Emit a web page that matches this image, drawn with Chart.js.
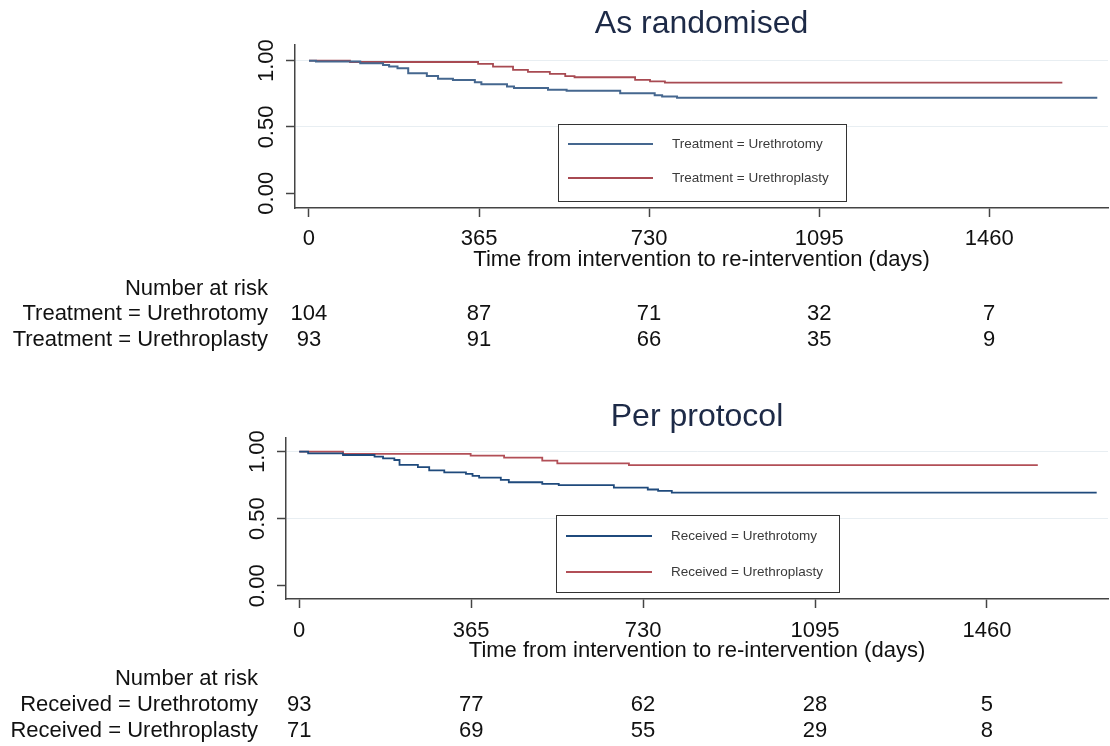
<!DOCTYPE html>
<html><head><meta charset="utf-8">
<script src="https://cdn.jsdelivr.net/npm/chart.js@4.4.1/dist/chart.umd.min.js"></script>
<style>
html,body{margin:0;padding:0;background:#fff;}
.panel{position:absolute;left:0;width:1110px;height:373px;}
</style></head><body>
<div class="panel" style="top:0"><canvas id="c1"></canvas></div>
<div class="panel" style="top:373px"><canvas id="c2"></canvas></div>
<script>
const FONT = '"Liberation Sans", Arial, sans-serif';
const xTicks = [0, 365, 730, 1095, 1460];
const yTicks = [0, 0.5, 1];

// Panel 1: As randomised
const r1UrotomyDays = [0, 15, 110, 159, 172, 190, 213, 253, 277, 309, 356, 370, 425, 440, 513, 553, 668, 742, 758, 790, 1692];
const r1UrotomySurv = [1, 0.993, 0.98, 0.968, 0.955, 0.943, 0.905, 0.885, 0.863, 0.855, 0.838, 0.823, 0.805, 0.793, 0.78, 0.773, 0.755, 0.74, 0.73, 0.72, 0.72];
const r1UroplastyDays = [0, 88, 363, 395, 438, 470, 517, 550, 570, 700, 732, 764, 1617];
const r1UroplastySurv = [1, 0.99, 0.975, 0.955, 0.93, 0.915, 0.9, 0.883, 0.875, 0.855, 0.843, 0.835, 0.835];
const r1UrotomyRisk = [104, 87, 71, 32, 7];
const r1UroplastyRisk = [93, 91, 66, 35, 9];

// Panel 2: Per protocol
const r2UrotomyDays = [0, 19, 93, 160, 178, 202, 213, 252, 276, 308, 354, 368, 382, 428, 445, 516, 551, 668, 740, 762, 791, 1693];
const r2UrotomySurv = [1, 0.988, 0.975, 0.963, 0.95, 0.938, 0.901, 0.884, 0.86, 0.845, 0.834, 0.819, 0.807, 0.79, 0.772, 0.76, 0.75, 0.732, 0.718, 0.708, 0.695, 0.695];
const r2UroplastyDays = [0, 93, 364, 435, 516, 548, 700, 1568];
const r2UroplastySurv = [1, 0.983, 0.97, 0.955, 0.933, 0.913, 0.9, 0.9];
const r2UrotomyRisk = [93, 77, 62, 28, 5];
const r2UroplastyRisk = [71, 69, 55, 29, 8];

function makeChart(id, cfg) {
  const datasets = cfg.series.map(s => ({
    label: s.label,
    data: s.days.map((d, i) => ({x: d, y: s.surv[i]})),
    borderColor: s.color,
    borderWidth: s.width,
    stepped: 'before',
    pointRadius: 0,
    fill: false,
    tension: 0
  }));
  const panelPlugin = {
    id: 'panel' + id,
    afterDraw(chart) {
      const ctx = chart.ctx, xs = chart.scales.x, ca = chart.chartArea;
      ctx.save();
      ctx.fillStyle = '#1d2a47';
      ctx.font = '32px ' + FONT;
      ctx.textAlign = 'center';
      ctx.textBaseline = 'middle';
      ctx.fillText(cfg.title, (ca.left + ca.right) / 2, cfg.titleY);
      const L = cfg.legend;
      ctx.fillStyle = '#fff';
      ctx.fillRect(L.x, L.y, L.w, L.h);
      ctx.strokeStyle = '#333';
      ctx.lineWidth = 1;
      ctx.strokeRect(L.x + 0.5, L.y + 0.5, L.w, L.h);
      chart.data.datasets.forEach((d, i) => {
        const y = L.rowY[i];
        ctx.strokeStyle = d.borderColor;
        ctx.lineWidth = d.borderWidth;
        ctx.beginPath();
        ctx.moveTo(L.lineX0, y);
        ctx.lineTo(L.lineX1, y);
        ctx.stroke();
        ctx.fillStyle = '#3a3a3a';
        ctx.font = '13.5px ' + FONT;
        ctx.textAlign = 'left';
        ctx.fillText(d.label, L.textX, y);
      });
      const T = cfg.table;
      ctx.fillStyle = '#111';
      ctx.font = '22px ' + FONT;
      ctx.textAlign = 'right';
      ctx.fillText('Number at risk', T.labelX, T.headY);
      cfg.series.forEach((s, i) => {
        ctx.textAlign = 'right';
        ctx.fillText(s.label, T.labelX, T.rowY[i]);
        ctx.textAlign = 'center';
        s.risk.forEach((n, j) => ctx.fillText(String(n), xs.getPixelForValue(xTicks[j]), T.rowY[i]));
      });
      ctx.restore();
    }
  };
  return new Chart(document.getElementById(id), {
    type: 'line',
    data: {datasets},
    plugins: [panelPlugin],
    options: {
      responsive: true,
      maintainAspectRatio: false,
      animation: false,
      devicePixelRatio: 1,
      layout: {padding: cfg.padding},
      plugins: {legend: {display: false}, title: {display: false}, tooltip: {enabled: false}},
      scales: {
        x: {
          type: 'linear', min: cfg.xMin, max: cfg.xMax,
          afterBuildTicks: s => { s.ticks = xTicks.map(v => ({value: v})); },
          afterFit: s => { s.height = 65; },
          grid: {drawOnChartArea: false, drawTicks: true, tickLength: 9, tickColor: '#444', tickWidth: 1.5},
          border: {display: true, color: '#444', width: 1.5},
          ticks: {color: '#111', font: {family: FONT, size: 22}, padding: cfg.xTickPad, maxRotation: 0, autoSkip: false,
                  callback: v => String(v)},
          title: {display: true, text: 'Time from intervention to re-intervention (days)', color: '#111',
                  font: {family: FONT, size: 22}, padding: {top: 0, bottom: 0}}
        },
        y: {
          min: cfg.yMin, max: cfg.yMax,
          afterBuildTicks: s => { s.ticks = yTicks.map(v => ({value: v})); },
          afterFit: s => { s.width = 40; },
          grid: {color: c => (c.tick && c.tick.value > 0) ? '#e8eef2' : 'rgba(0,0,0,0)',
                 tickColor: '#444', tickLength: 9, tickWidth: 1.5, drawTicks: true},
          border: {display: true, color: '#444', width: 1.5},
          ticks: {minRotation: 90, maxRotation: 90, crossAlign: 'center', padding: -2, color: '#111',
                  font: {family: FONT, size: 22}, callback: v => Number(v).toFixed(2)}
        }
      }
    }
  });
}

makeChart('c1', {
  title: 'As randomised', titleY: 24, xTickPad: 9,
  xMin: -30, xMax: 1715, yMin: -0.111, yMax: 1.118,
  padding: {left: 255, right: 2, top: 45, bottom: 100},
  series: [
    {label: 'Treatment = Urethrotomy', days: r1UrotomyDays, surv: r1UrotomySurv, risk: r1UrotomyRisk, color: '#45678f', width: 2},
    {label: 'Treatment = Urethroplasty', days: r1UroplastyDays, surv: r1UroplastySurv, risk: r1UroplastyRisk, color: '#a84a52', width: 1.8}
  ],
  legend: {x: 558, y: 124, w: 288, h: 77, rowY: [144, 178], lineX0: 568, lineX1: 653, textX: 672},
  table: {labelX: 268, headY: 289, rowY: [314, 340]}
});

makeChart('c2', {
  title: 'Per protocol', titleY: 44, xTickPad: 10,
  xMin: -28, xMax: 1717, yMin: -0.099, yMax: 1.102,
  padding: {left: 246, right: 2, top: 65, bottom: 82},
  series: [
    {label: 'Received = Urethrotomy', days: r2UrotomyDays, surv: r2UrotomySurv, risk: r2UrotomyRisk, color: '#1f4a7c', width: 1.8},
    {label: 'Received = Urethroplasty', days: r2UroplastyDays, surv: r2UroplastySurv, risk: r2UroplastyRisk, color: '#b24f57', width: 1.8}
  ],
  legend: {x: 556, y: 142, w: 283, h: 77, rowY: [163, 199], lineX0: 566, lineX1: 652, textX: 671},
  table: {labelX: 258, headY: 306, rowY: [332, 358]}
});
</script>
</body></html>
